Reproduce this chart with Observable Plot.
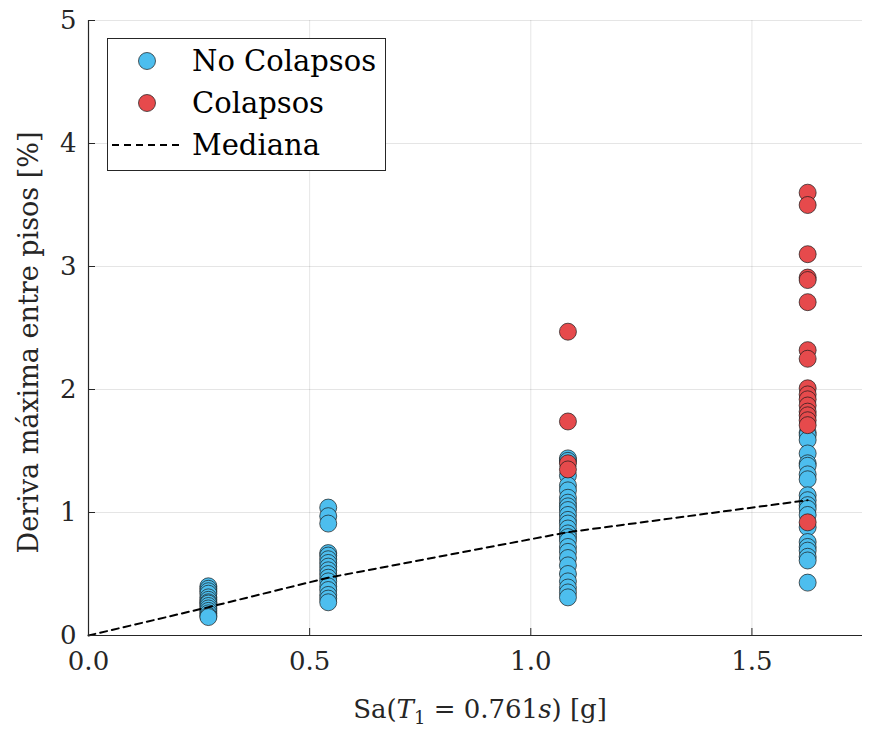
<!DOCTYPE html>
<html>
<head>
<meta charset="utf-8">
<script src="https://cdn.jsdelivr.net/npm/d3@7"></script>
<script src="https://cdn.jsdelivr.net/npm/@observablehq/plot@0.6"></script>
<style>
  html, body { margin: 0; padding: 0; background: #fff; }
  #chart { width: 874px; height: 731px; }
  #chart svg, #chart svg text, #chart svg tspan { font-family: "DejaVu Serif", "Liberation Serif", serif !important; }
</style>
</head>
<body>
<div id="chart"></div>
<script>
// Intensity levels Sa(T1) [g]
const xLevels = [0.271, 0.542, 1.084, 1.626];
// No Colapsos (blue) per level
const noCol1 = [0.40, 0.38, 0.36, 0.34, 0.31, 0.29, 0.27, 0.26, 0.24, 0.22, 0.20, 0.18, 0.16, 0.15];
const noCol2 = [1.04, 0.97, 0.91, 0.67, 0.65, 0.62, 0.59, 0.56, 0.53, 0.50, 0.47, 0.44, 0.40, 0.37, 0.33, 0.30, 0.27];
const noCol3 = [1.44, 1.42, 1.30, 1.22, 1.18, 1.12, 1.08, 1.05, 1.02, 0.98, 0.94, 0.91, 0.87, 0.83, 0.80, 0.77, 0.72, 0.68, 0.63, 0.57, 0.50, 0.44, 0.39, 0.35, 0.31];
const noCol4 = [1.65, 1.63, 1.59, 1.48, 1.40, 1.38, 1.31, 1.27, 1.14, 1.10, 1.06, 1.03, 0.98, 0.88, 0.76, 0.72, 0.69, 0.64, 0.61, 0.43];
// Colapsos (red) per level
const col1 = [];
const col2 = [];
const col3 = [2.47, 1.74, 1.40, 1.35];
const col4 = [3.60, 3.50, 3.10, 2.91, 2.89, 2.71, 2.32, 2.25, 2.01, 1.96, 1.92, 1.87, 1.82, 1.79, 1.75, 1.71, 0.92];
// Median line
const medianX = [0, 0.271, 0.542, 1.084, 1.626];
const medianY = [0, 0.23, 0.47, 0.84, 1.10];
// Ticks
const xTicks = [0, 0.5, 1.0, 1.5];
const yTicks = [0, 1, 2, 3, 4, 5];
const legendLabels = ["No Colapsos", "Colapsos", "Mediana"];

const blue = "#4dbeee";
const red = "#e64a4c";

const noColData = [noCol1, noCol2, noCol3, noCol4].flatMap((arr, i) => arr.map(v => ({x: xLevels[i], y: v})));
const colData = [col1, col2, col3, col4].flatMap((arr, i) => arr.map(v => ({x: xLevels[i], y: v})));
const medianData = medianX.map((x, i) => ({x, y: medianY[i]}));

const W = 874, H = 731;
const mL = 88, mR = 12, mT = 20, mB = 96;

const plot = Plot.plot({
  width: W,
  height: H,
  marginLeft: mL,
  marginRight: mR,
  marginTop: mT,
  marginBottom: mB,
  style: {fontSize: "26px", background: "#fff", color: "#262626", overflow: "visible"},
  x: {domain: [0, 1.75], label: null},
  y: {domain: [0, 5], label: null},
  marks: [
    Plot.gridX(xTicks, {stroke: "#000", strokeOpacity: 0.1, strokeWidth: 1}),
    Plot.gridY(yTicks, {stroke: "#000", strokeOpacity: 0.1, strokeWidth: 1}),
    Plot.dot(noColData, {x: "x", y: "y", r: 8.5, fill: blue, stroke: "#1a1a1a", strokeWidth: 0.7}),
    Plot.dot(colData, {x: "x", y: "y", r: 8.5, fill: red, stroke: "#1a1a1a", strokeWidth: 0.7}),
    Plot.line(medianData, {x: "x", y: "y", stroke: "#000", strokeWidth: 2, strokeDasharray: "7,5"}),
    Plot.axisX(xTicks, {tickSize: -7, tickFormat: () => "", stroke: "#262626"}),
    Plot.axisY(yTicks, {tickSize: -7, tickFormat: () => "", stroke: "#262626"}),
    Plot.axisX(xTicks, {tickSize: 0, tickPadding: 16, tickFormat: d3.format(".1f"), fill: "#262626", label: null}),
    Plot.axisY(yTicks, {tickSize: 0, tickPadding: 12, tickFormat: d3.format("d"), fill: "#262626", label: null}),
    Plot.ruleX([0], {stroke: "#262626", strokeWidth: 1.2}),
    Plot.ruleY([0], {stroke: "#262626", strokeWidth: 1.2})
  ]
});

document.getElementById("chart").appendChild(plot);

const svg = d3.select(plot);

// Axis labels
const xl = svg.append("text")
  .attr("x", mL + (W - mL - mR) / 2 + 5)
  .attr("y", 718)
  .attr("text-anchor", "middle")
  .attr("font-size", 26)
  .attr("fill", "#262626");
xl.append("tspan").text("Sa(");
xl.append("tspan").attr("font-style", "italic").text("T");
xl.append("tspan").attr("font-size", 18).attr("dy", 6).text("1");
xl.append("tspan").attr("dy", -6).text(" = 0.761");
xl.append("tspan").attr("font-style", "italic").text("s");
xl.append("tspan").text(") [g]");

svg.append("text")
  .attr("transform", `translate(38, ${mT + (H - mT - mB) / 2 + 15}) rotate(-90)`)
  .attr("text-anchor", "middle")
  .attr("font-size", 27)
  .attr("fill", "#262626")
  .text("Deriva máxima entre pisos [%]");

// Legend
const lg = svg.append("g");
lg.append("rect")
  .attr("x", 107.5).attr("y", 38.5)
  .attr("width", 278).attr("height", 132)
  .attr("fill", "#fff").attr("stroke", "#262626").attr("stroke-width", 1);
const rows = [61, 103, 145];
lg.append("circle").attr("cx", 147).attr("cy", rows[0]).attr("r", 8.5)
  .attr("fill", blue).attr("stroke", "#1a1a1a").attr("stroke-width", 0.7);
lg.append("circle").attr("cx", 147).attr("cy", rows[1]).attr("r", 8.5)
  .attr("fill", red).attr("stroke", "#1a1a1a").attr("stroke-width", 0.7);
lg.append("line").attr("x1", 112).attr("x2", 184).attr("y1", rows[2]).attr("y2", rows[2])
  .attr("stroke", "#000").attr("stroke-width", 2).attr("stroke-dasharray", "7,5");
legendLabels.forEach((t, i) => {
  lg.append("text")
    .attr("x", 192).attr("y", rows[i])
    .attr("dy", "0.35em")
    .attr("text-anchor", "start")
    .attr("font-size", 29)
    .attr("fill", "#000")
    .text(t);
});
</script>
</body>
</html>
